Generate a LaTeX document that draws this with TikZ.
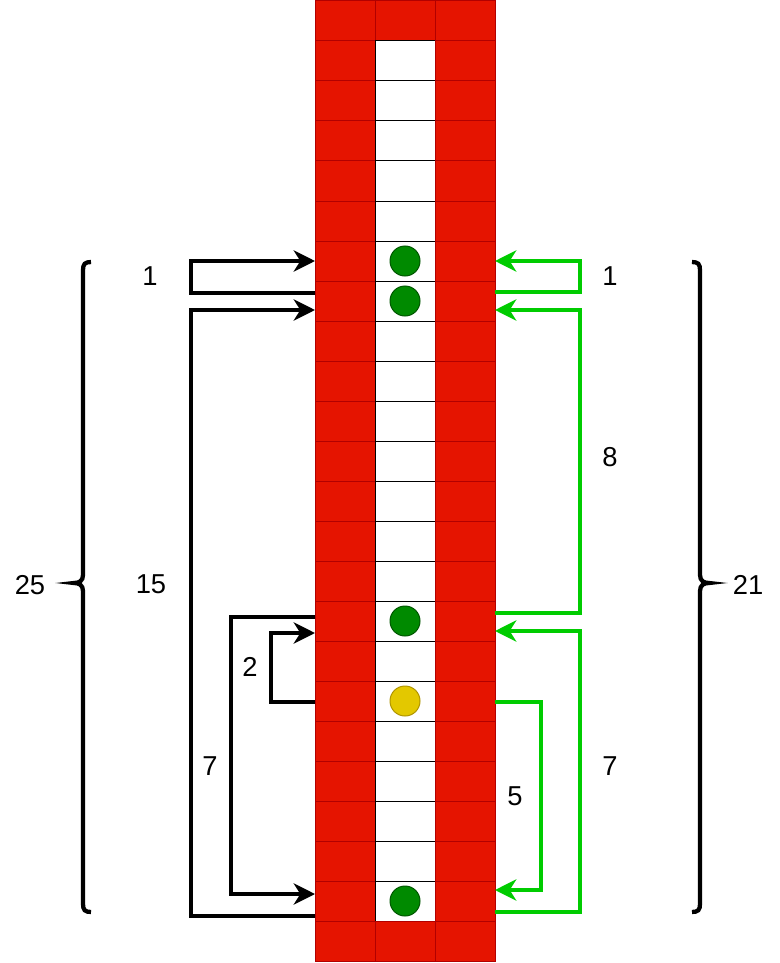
\documentclass[tikz,border=0pt]{standalone}
\usepackage{fontspec}
\setmainfont{Liberation Sans}
\usetikzlibrary{arrows.meta}
\definecolor{cellred}{HTML}{E51400}
\definecolor{cellredline}{HTML}{B20000}
\definecolor{dotgreen}{HTML}{008A00}
\definecolor{dotgreenline}{HTML}{005700}
\definecolor{dotyellow}{HTML}{E3C800}
\definecolor{dotyellowline}{HTML}{B09500}
\definecolor{arrgreen}{HTML}{00CC00}
\tikzset{
  redcell/.style={draw=cellredline,fill=cellred,line width=0.75pt,minimum width=45pt,minimum height=30pt,inner sep=0pt,outer sep=0pt},
  whitecell/.style={draw=black,fill=white,line width=0.75pt,minimum width=45pt,minimum height=30pt,inner sep=0pt,outer sep=0pt},
  gdot/.style={circle,draw=dotgreenline,fill=dotgreen,line width=0.75pt,minimum size=22.5pt,inner sep=0pt},
  ydot/.style={circle,draw=dotyellowline,fill=dotyellow,line width=0.75pt,minimum size=22.5pt,inner sep=0pt},
  blackarr/.style={draw=black,line width=3.2pt,-{Stealth[length=16pt,width=16pt,inset=5pt]}},
  greenarr/.style={draw=arrgreen,line width=3.2pt,-{Stealth[length=16pt,width=16pt,inset=5pt]}},
  bracestyle/.style={draw=black,line width=3.2pt},
  lbl/.style={font=\fontsize{20.5}{24}\selectfont,inner sep=0pt}
}
\begin{document}
\begin{tikzpicture}[x=0.75pt,y=-0.75pt]
\useasboundingbox (0,0) rectangle (780,963);
% grid
\foreach \r in {0,...,23}{
  \foreach \c in {0,1,2}{
    \pgfmathtruncatemacro{\isw}{(\c==1)&&(\r>=1)&&(\r<=22)}
    \ifnum\isw=1
      \node[whitecell] (c\r-\c) at ({345+60*\c},{21+40*\r}) {};
    \else
      \node[redcell] (c\r-\c) at ({345+60*\c},{21+40*\r}) {};
    \fi
  }
}
% dots
\node[gdot] (d6) at (c6-1) {};
\node[gdot] (d7) at (c7-1) {};
\node[gdot] (d15) at (c15-1) {};
\node[ydot] (d17) at (c17-1) {};
\node[gdot] (d22) at (c22-1) {};
% black arrows (left side)
\coordinate (la1s) at (315,293);
\coordinate (la1e) at (315,261);
\draw[blackarr] (la1s) -| (191,261) -- (la1e);
\coordinate (la15s) at (315,916);
\coordinate (la15e) at (315,310);
\draw[blackarr] (la15s) -| (191,310) -- (la15e);
\coordinate (la7s) at (315,617);
\coordinate (la7e) at (315,894);
\draw[blackarr] (la7s) -| (231,894) -- (la7e);
\coordinate (la2s) at (315,702);
\coordinate (la2e) at (315,633);
\draw[blackarr] (la2s) -| (271,633) -- (la2e);
% green arrows (right side)
\coordinate (ra1s) at (495,292);
\coordinate (ra1e) at (495,261);
\draw[greenarr] (ra1s) -| (580,261) -- (ra1e);
\coordinate (ra8s) at (495,613);
\coordinate (ra8e) at (495,310);
\draw[greenarr] (ra8s) -| (580,310) -- (ra8e);
\coordinate (ra7s) at (495,912);
\coordinate (ra7e) at (495,631);
\draw[greenarr] (ra7s) -| (580,631) -- (ra7e);
\coordinate (ra5s) at (495,702);
\coordinate (ra5e) at (495,890);
\draw[greenarr] (ra5s) -| (541,890) -- (ra5e);
% braces
\draw[bracestyle] (91,262) .. controls (85,262) and (83,264) .. (83,270) -- (83,575)
  .. controls (83,581) and (79,583) .. (74,583) .. controls (79,583) and (83,585) .. (83,591)
  -- (83,904) .. controls (83,910) and (85,912) .. (91,912);
\draw[bracestyle] (692,262) .. controls (698,262) and (700,264) .. (700,270) -- (700,575)
  .. controls (700,581) and (704,583) .. (709,583) .. controls (704,583) and (700,585) .. (700,591)
  -- (700,904) .. controls (700,910) and (698,912) .. (692,912);
% labels
\node[lbl] (t1l) at (150,276) {1};
\node[lbl] (t15) at (151,584) {15};
\node[lbl] (t7l) at (210,766) {7};
\node[lbl] (t2) at (250,667) {2};
\node[lbl] (t1r) at (610,276) {1};
\node[lbl] (t8) at (610,457) {8};
\node[lbl] (t7r) at (610,766) {7};
\node[lbl] (t5) at (515,796) {5};
\node[lbl] (t25) at (30,585) {25};
\node[lbl] (t21) at (748,585) {21};
\end{tikzpicture}
\end{document}
